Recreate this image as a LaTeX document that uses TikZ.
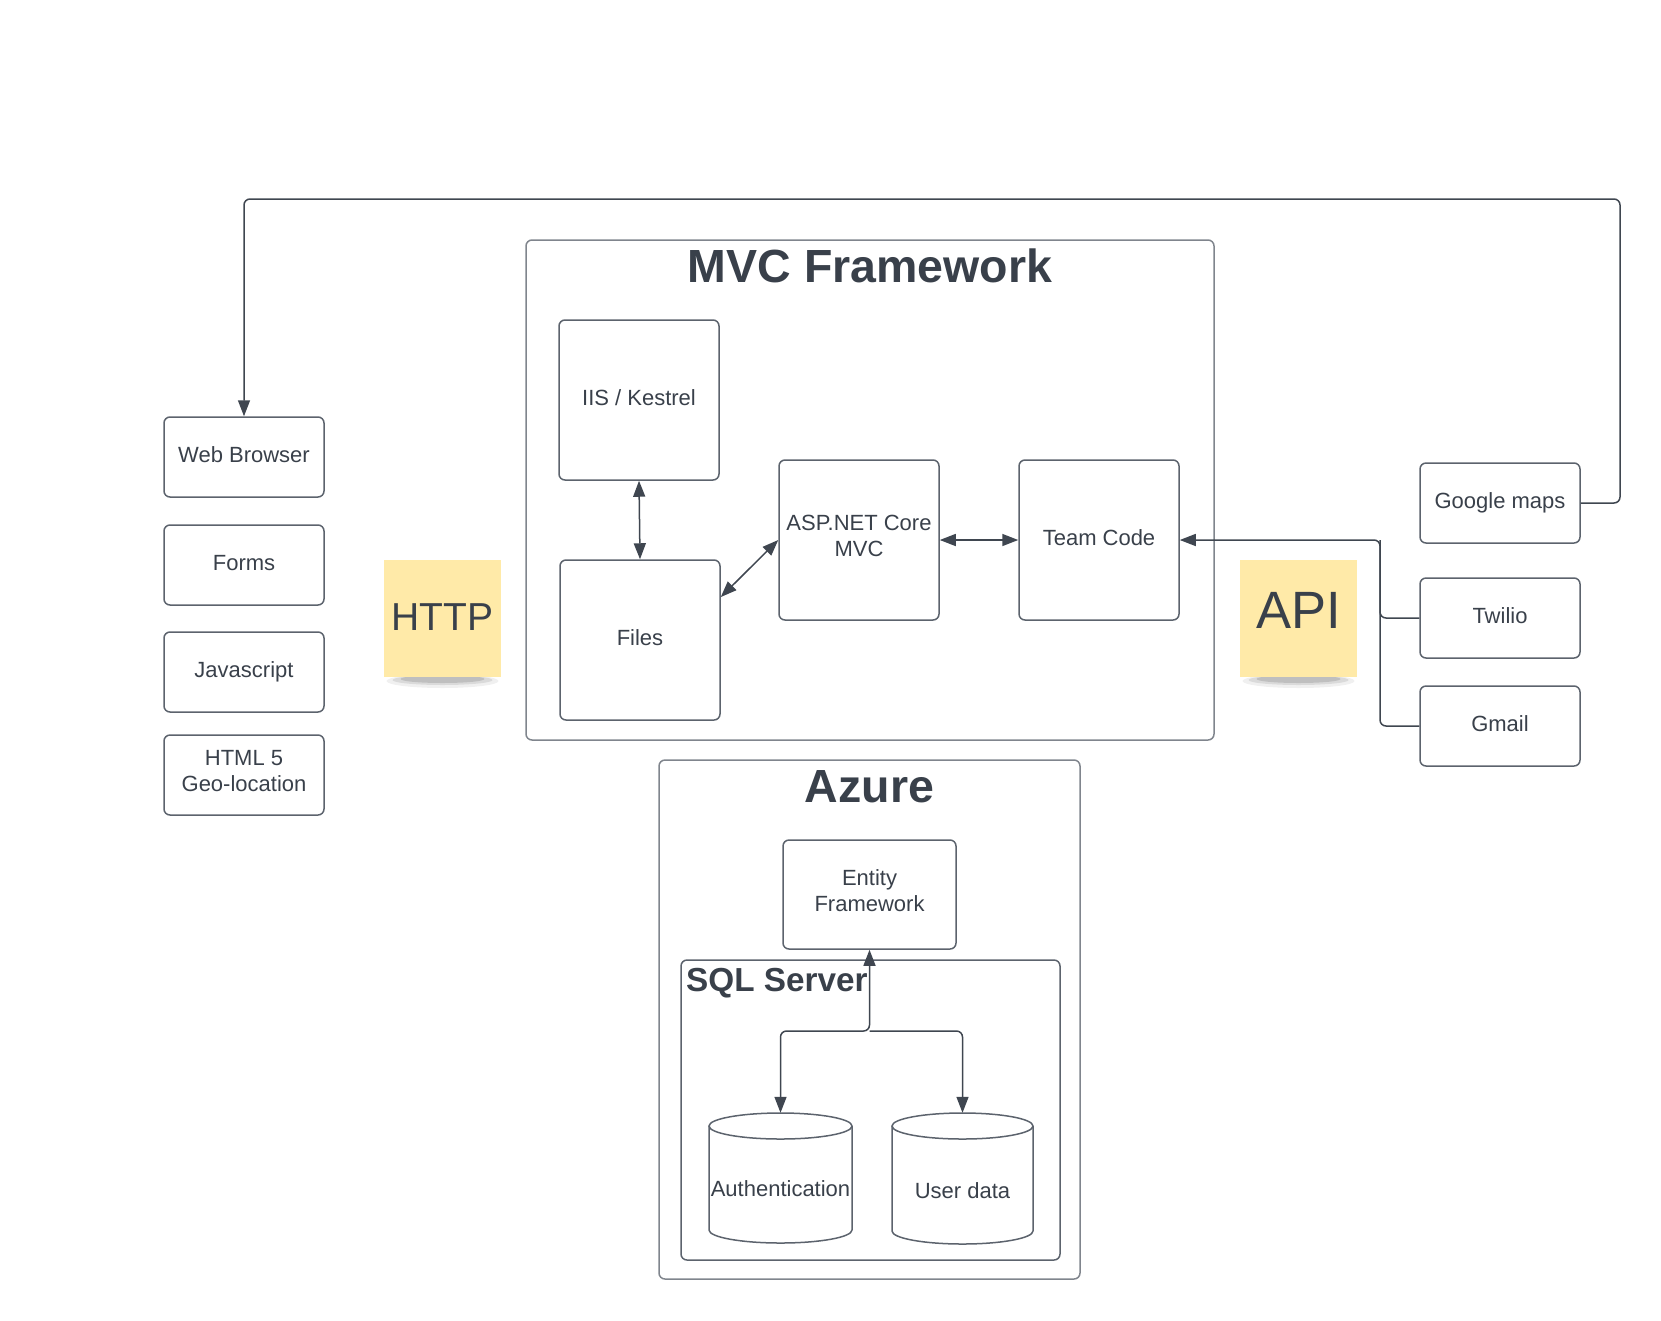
\documentclass[tikz,border=0pt]{standalone}
\usepackage{fontspec}
\setmainfont{Liberation Sans}
\usetikzlibrary{arrows.meta}
\definecolor{textc}{HTML}{39404A}
\definecolor{boxc}{HTML}{5C636D}
\definecolor{contc}{HTML}{80858D}
\definecolor{linec}{HTML}{3F4650}
\definecolor{notec}{HTML}{FFEAA8}
\newcommand{\twolines}[3]{\raisebox{#1}[\height][\depth]{\begin{tabular}{@{}c@{}}#2\\#3\end{tabular}}}
\begin{document}
\begin{tikzpicture}[x=1pt,y=-1pt,
  >={Triangle[length=16pt,width=12pt]},
  boxm/.style={draw=boxc, line width=1.5pt, rounded corners=6pt, minimum width=160pt, minimum height=80pt, text=textc, font=\fontsize{22}{26}\selectfont, align=center, inner sep=0pt},
  box/.style={boxm, text height=16pt, text depth=5pt},
  sqbox/.style={box, minimum height=160pt},
  sqboxm/.style={boxm, minimum height=160pt},
  cont/.style={draw=contc, line width=1.5pt, rounded corners=6pt, inner sep=0pt},
  title/.style={text=textc, font=\bfseries\fontsize{46.5}{50}\selectfont, inner sep=0pt},
  note/.style={fill=notec, minimum width=117pt, minimum height=117pt, inner sep=0pt},
  notetext/.style={text=textc, inner sep=0pt},
  plain/.style={text=textc, font=\fontsize{22}{26}\selectfont, inner sep=0pt},
  conn/.style={draw=linec, line width=1.5pt, rounded corners=6pt},
  ghost/.style={inner sep=0pt}]
\useasboundingbox (0,0) rectangle (1661,1320);

% containers
\node[cont, minimum width=688pt, minimum height=500pt] (mvc) at (870,490) {};
\node[title] (mvct) at (870,266) {MVC Framework};
\node[cont, minimum width=421pt, minimum height=519pt] (azure) at (869.5,1019.5) {};
\node[title] (azuret) at (869.5,787) {Azure};
\node[draw=boxc, line width=1.5pt, rounded corners=6pt, inner sep=0pt, minimum width=379pt, minimum height=300pt] (sql) at (870.5,1110) {};
\node[text=textc, font=\bfseries\fontsize{33.3}{36}\selectfont, inner sep=0pt, anchor=base west] (sqlt) at (686,991.7) {SQL Server};

% left column
\node[box] (wb) at (244,457) {Web Browser};
\node[box] (forms) at (244,565) {Forms};
\node[box] (js) at (244,672) {Javascript};
\node[boxm] (html) at (244,775) {\twolines{2pt}{HTML 5}{Geo-location}};

% sticky notes with shadows
\foreach \cx in {442.5,1298.5}{
  \fill[black, opacity=0.06] (\cx,681) ellipse [x radius=56, y radius=7];
  \fill[black, opacity=0.09] (\cx,680) ellipse [x radius=50, y radius=5];
  \fill[black, opacity=0.12] (\cx,679) ellipse [x radius=42, y radius=4];
}
\node[note] (http) at (442.5,618.5) {};
\node[notetext, font=\fontsize{39}{42}\selectfont] (httpt) at (442.5,617) {HTTP};
\node[note] (api) at (1298.5,618.5) {};
\node[notetext, font=\fontsize{52.5}{56}\selectfont] (apit) at (1298.5,610) {API};

% MVC inner boxes
\node[sqbox] (iis) at (639,400) {IIS / Kestrel};
\node[sqbox] (files) at (640,640) {Files};
\node[sqboxm] (asp) at (859,540) {\twolines{2pt}{ASP.NET Core}{MVC}};
\node[sqbox] (team) at (1099,540) {Team Code};

% right column
\node[box] (gmaps) at (1500,503) {Google maps};
\node[box] (twilio) at (1500,618) {Twilio};
\node[box] (gmail) at (1500,726) {Gmail};

% Azure inner
\node[boxm, minimum width=173pt, minimum height=109pt] (ef) at (869.5,894.5) {\twolines{1.5pt}{Entity}{Framework}};

% cylinders
\draw[boxc, line width=1.5pt, fill=white] (709,1126) -- (709,1230) arc[start angle=180, end angle=0, x radius=71.5, y radius=13] -- (852,1126);
\draw[boxc, line width=1.5pt] (780.5,1126) ellipse [x radius=71.5, y radius=13];
\draw[boxc, line width=1.5pt, fill=white] (892,1126) -- (892,1231) arc[start angle=180, end angle=0, x radius=70.5, y radius=13] -- (1033,1126);
\draw[boxc, line width=1.5pt] (962.5,1126) ellipse [x radius=70.5, y radius=13];
\node[ghost, minimum width=143pt, minimum height=130pt] (auth) at (780.5,1178) {};
\node[ghost, minimum width=141pt, minimum height=131pt] (udata) at (962.5,1178.5) {};
\node[plain] (autht) at (780.5,1189) {Authentication};
\node[plain] (udatat) at (962.5,1190.5) {User data};

% connectors
\coordinate (tr) at (1620,199);
\draw[conn, ->] (gmaps.east) -| (tr) -| (wb.north);
\draw[conn, <->] (iis.south) -- (files.north);
\draw[conn, <->] (files.28) -- (asp.west);
\draw[conn, <->] (asp.east) -- (team.west);
\coordinate (jx) at (1380,540);
\draw[conn, ->] (twilio.west) -| (jx) -- (team.east);
\draw[conn] (gmail.west) -| (jx);
\coordinate (jn) at (869.5,1031);
\draw[conn, <->] (ef.south) -- (jn) -| (auth.north);
\draw[conn, ->] (jn) -| (udata.north);
\end{tikzpicture}
\end{document}
